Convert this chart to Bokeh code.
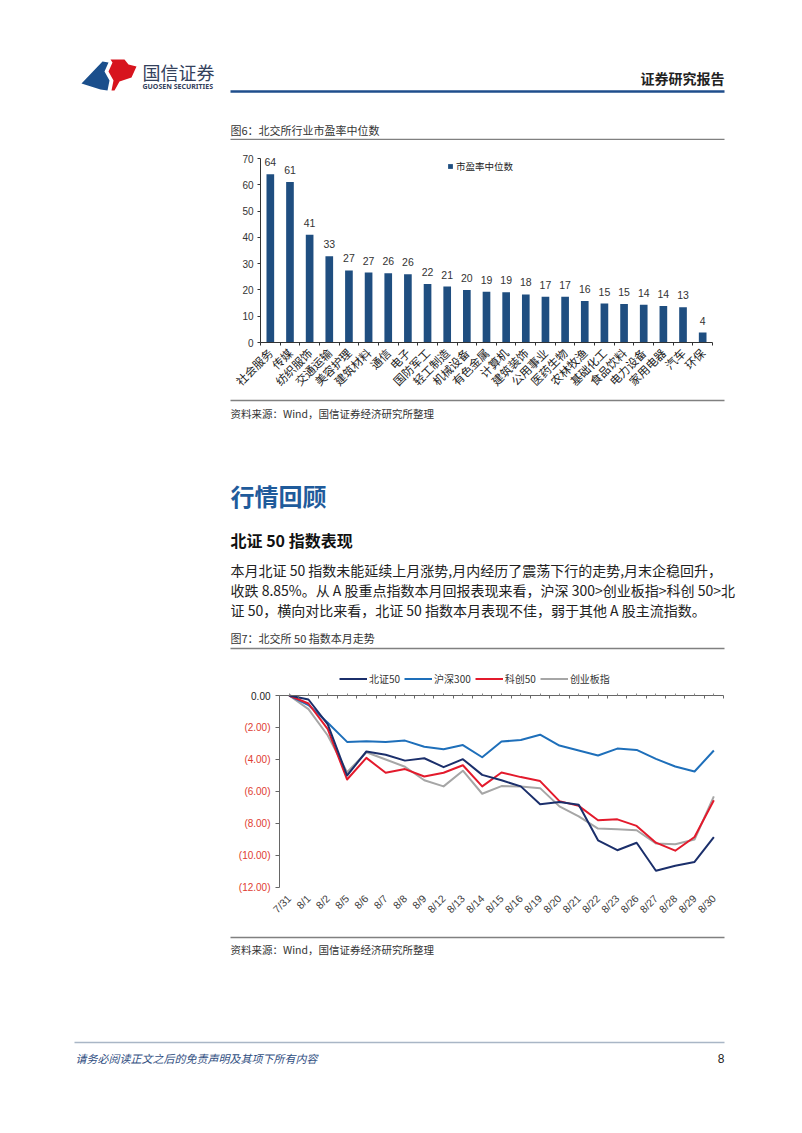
import math
from bokeh.plotting import figure
from bokeh.models import (Range1d, FixedTicker, LabelSet, ColumnDataSource, Legend,
                          LegendItem, Label, LinearAxis)
from bokeh.layouts import column
from bokeh.embed import file_html
from bokeh.resources import INLINE
from bokeh.core.properties import value

CJK = "Noto Sans CJK SC"
LAT = "Liberation Sans"

# ---------------- data: chart 1 ----------------
industries = ["社会服务", "传媒", "纺织服饰", "交通运输", "美容护理", "建筑材料", "通信", "电子",
              "国防军工", "轻工制造", "机械设备", "有色金属", "计算机", "建筑装饰", "公用事业",
              "医药生物", "农林牧渔", "基础化工", "食品饮料", "电力设备", "家用电器", "汽车", "环保"]
pe_median = [64.0, 61.1, 41.0, 32.8, 27.4, 26.6, 26.3, 26.0, 22.3, 21.3, 20.0, 19.3, 19.1,
             18.3, 17.4, 17.4, 15.8, 14.8, 14.6, 14.4, 13.9, 13.4, 3.8]
pe_ticks = [0, 10, 20, 30, 40, 50, 60, 70]
pe_series_name = "市盈率中位数"

# ---------------- data: chart 2 ----------------
dates = ["7/31", "8/1", "8/2", "8/5", "8/6", "8/7", "8/8", "8/9", "8/12", "8/13", "8/14",
         "8/15", "8/16", "8/19", "8/20", "8/21", "8/22", "8/23", "8/26", "8/27", "8/28",
         "8/29", "8/30"]
bz50 = [0.0, -0.25, -1.8, -5.0, -3.5, -3.7, -4.07, -3.92, -4.48, -3.98, -4.96, -5.3, -5.68,
        -6.8, -6.66, -6.83, -9.05, -9.67, -9.2, -10.95, -10.64, -10.4, -8.85]
hs300 = [0.0, -0.6, -1.7, -2.9, -2.86, -2.9, -2.82, -3.2, -3.36, -3.1, -3.86, -2.88, -2.78,
         -2.45, -3.13, -3.44, -3.75, -3.32, -3.4, -3.96, -4.44, -4.75, -3.44]
kc50 = [0.0, -0.5, -2.1, -5.25, -3.9, -4.83, -4.6, -5.06, -4.83, -4.36, -5.68, -4.81, -5.1,
        -5.35, -6.6, -6.9, -7.8, -7.74, -8.15, -9.2, -9.7, -8.84, -6.55]
cyb = [0.0, -0.85, -2.5, -4.8, -3.55, -4.0, -4.45, -5.3, -5.68, -4.7, -6.14, -5.66, -5.68,
       -5.79, -6.93, -7.55, -8.32, -8.36, -8.42, -9.25, -9.3, -9.0, -6.3]
series_names = ["北证50", "沪深300", "科创50", "创业板指"]
y2_ticks = [-12, -10, -8, -6, -4, -2, 0]

# ---------------- texts ----------------
brand_cn = "国信证券"
brand_en = "GUOSEN SECURITIES"
report_tag = "证券研究报告"
cap6 = "图6：北交所行业市盈率中位数"
cap7 = "图7：北交所 50 指数本月走势"
source_txt = "资料来源：Wind，国信证券经济研究所整理"
section_title = "行情回顾"
sub_title = "北证 50 指数表现"
para = ["本月北证 50 指数未能延续上月涨势,月内经历了震荡下行的走势,月末企稳回升，",
        "收跌 8.85%。从 A 股重点指数本月回报表现来看，沪深 300>创业板指>科创 50>北",
        "证 50，横向对比来看，北证 50 指数本月表现不佳，弱于其他 A 股主流指数。"]
footer_txt = "请务必阅读正文之后的免责声明及其项下所有内容"
page_no = "8"

BAR = "#1f4e80"
C_BZ, C_HS, C_KC, C_CY = "#1b2f6b", "#1e6fba", "#e31a2c", "#a6a6a6"
GRAYLINE = "#808080"

# ---- common horizontal frame for every panel (page pixels) ----
PAGE_L, PAGE_R = 0, 786
BORDER_L, BORDER_R = 60, 8
FRAME_L, FRAME_R = PAGE_L + BORDER_L, PAGE_R - BORDER_R


def page_fig(top, bottom):
    f = figure(width=PAGE_R - PAGE_L, height=bottom - top, x_range=Range1d(FRAME_L, FRAME_R),
               y_range=Range1d(bottom, top), output_backend="svg", toolbar_location=None,
               x_axis_type=None, y_axis_type=None, min_border=0,
               min_border_left=BORDER_L, min_border_right=BORDER_R)
    f.grid.visible = False
    f.outline_line_color = None
    f.background_fill_color = "white"
    f.border_fill_color = "white"
    return f


def txt(f, x, y, s, size, color="#222", bold=False, italic=False, align="left", font=CJK):
    style = "bold" if bold else ("italic" if italic else "normal")
    f.text(x=[x], y=[y], text=[s], text_font=value(font), text_font_size=value(size),
           text_color=color, text_baseline="middle", text_align=align, text_font_style=style)


def cat_range(n, axis_px, end_px):
    unit = (end_px - axis_px) / n
    return Range1d(-0.5 - (axis_px - FRAME_L) / unit, n - 0.5 + (FRAME_R - end_px) / unit)


# ---------------- header ----------------
fa = page_fig(0, 140)
fa.patch(x=[81, 102, 108, 104, 109, 107, 100], y=[83, 61, 62, 71, 80, 90, 89],
         fill_color="#1b4f8c", line_color=None)
fa.patch(x=[110, 124, 128, 136, 131, 119, 114, 111, 113, 108, 112],
         y=[59, 59, 64, 66, 77, 81, 90, 90, 80, 71, 62],
         fill_color="#d7141e", line_color=None)
txt(fa, 142, 71, brand_cn, "18px", color="#33415c")
txt(fa, 142, 86, brand_en, "7px", color="#33415c", bold=True, font="Noto Sans")
txt(fa, 724, 77, report_tag, "14px", color="#222", bold=True, align="right")
fa.line(x=[230, 724], y=[91, 91], line_color="#1f4e8c", line_width=2.5)
txt(fa, 230, 129, cap6, "11px", color="#333")
fa.line(x=[230, 724], y=[139, 139], line_color=GRAYLINE, line_width=1.5)

# ---------------- chart 1 ----------------
n1 = len(industries)
C1_TOP, C1_70, C1_0, C1_BOT, C1_FIG_T, C1_FIG_B = 150, 158, 342, 348, 140, 398
unit1 = (C1_0 - C1_70) / 70
p1 = figure(width=PAGE_R - PAGE_L, height=C1_FIG_B - C1_FIG_T, x_range=cat_range(n1, 260, 712),
            y_range=Range1d(-(C1_BOT - C1_0) / unit1, 70 + (C1_70 - C1_TOP) / unit1),
            output_backend="svg", toolbar_location=None,
            min_border_left=BORDER_L, min_border_right=BORDER_R,
            min_border_top=C1_TOP - C1_FIG_T, min_border_bottom=C1_FIG_B - C1_BOT)
p1.outline_line_color = None
p1.grid.visible = False
src1 = ColumnDataSource(dict(x=list(range(n1)), top=pe_median,
                             lab=[f"{v:.0f}" for v in pe_median]))
rb = p1.vbar(x="x", top="top", width=0.39, source=src1, fill_color=BAR, line_color=None)
p1.add_layout(LabelSet(x="x", y="top", text="lab", source=src1, y_offset=8,
                       text_align="center", text_baseline="bottom", text_font=value(LAT),
                       text_font_size="10.5px", text_color="#333"))
# category labels (no line, no ticks)
xa = p1.xaxis[0]
xa.ticker = FixedTicker(ticks=list(range(n1)))
xa.major_label_overrides = {i: n for i, n in enumerate(industries)}
xa.major_label_orientation = math.pi / 4
xa.major_label_text_font = CJK
xa.major_label_text_font_size = "11.5px"
xa.major_label_text_color = "#222"
xa.major_label_standoff = 2
xa.major_tick_line_color = None
xa.major_tick_out = 0
xa.major_tick_in = 0
xa.minor_tick_line_color = None
xa.axis_line_color = None
# baseline axis at y = 0 with ticks between categories
bnd1 = [i - 0.5 for i in range(n1 + 1)]
base1 = LinearAxis(ticker=FixedTicker(ticks=bnd1), fixed_location=0, bounds=(-0.5, n1 - 0.5),
                   major_label_overrides={b: "" for b in bnd1},
                   major_label_text_font_size="1px", major_label_standoff=0,
                   major_tick_in=3, major_tick_out=0, minor_tick_line_color=None,
                   axis_line_color="#333", major_tick_line_color="#333")
p1.add_layout(base1, "above")
ya = p1.yaxis[0]
ya.fixed_location = -0.5
ya.bounds = (0, 70)
ya.ticker = FixedTicker(ticks=pe_ticks)
ya.minor_tick_line_color = None
ya.major_tick_out = 3
ya.major_tick_in = 0
ya.major_tick_line_color = "#333"
ya.axis_line_color = "#333"
ya.major_label_text_font = LAT
ya.major_label_text_font_size = "10px"
ya.major_label_text_color = "#333"
ya.major_label_standoff = 4
leg1 = Legend(items=[LegendItem(label=pe_series_name, renderers=[rb])],
              location=(447 - FRAME_L, C1_BOT - 173),
              background_fill_alpha=0, border_line_color=None, padding=0, margin=0,
              glyph_width=6, glyph_height=6, label_standoff=3, label_height=12,
              label_text_font=CJK, label_text_font_size="9.5px", label_text_color="#222")
p1.add_layout(leg1)

# ---------------- middle text ----------------
fc = page_fig(398, 655)
fc.line(x=[230, 724], y=[400, 400], line_color=GRAYLINE, line_width=1.5)
txt(fc, 230, 413, source_txt, "10.5px", color="#333")
txt(fc, 230, 495, section_title, "24px", color="#1f5b9b", bold=True)
txt(fc, 230, 539, sub_title, "16px", color="#111", bold=True)
for i, line in enumerate(para):
    txt(fc, 230, 569 + 20 * i, line, "14px", color="#222")
txt(fc, 230, 637, cap7, "11px", color="#333")
fc.line(x=[230, 724], y=[648, 648], line_color=GRAYLINE, line_width=1.5)

# ---------------- chart 2 ----------------
n2 = len(dates)
C2_FIG_T, C2_TOP, C2_0, C2_M12, C2_BOT, C2_FIG_B = 655, 669, 695, 887, 895, 925
unit2 = (C2_M12 - C2_0) / 12
p2 = figure(width=PAGE_R - PAGE_L, height=C2_FIG_B - C2_FIG_T, x_range=cat_range(n2, 279, 723),
            y_range=Range1d(-12 - (C2_BOT - C2_M12) / unit2, (C2_0 - C2_TOP) / unit2),
            output_backend="svg", toolbar_location=None,
            min_border_left=BORDER_L, min_border_right=BORDER_R,
            min_border_top=C2_TOP - C2_FIG_T, min_border_bottom=C2_FIG_B - C2_BOT)
p2.outline_line_color = None
p2.grid.visible = False
xb = p2.xaxis[0]
xb.ticker = FixedTicker(ticks=list(range(n2)))
xb.major_label_overrides = {i: d for i, d in enumerate(dates)}
xb.major_label_orientation = math.pi / 4
xb.major_label_text_font = LAT
xb.major_label_text_font_size = "10.5px"
xb.major_label_text_color = "#404040"
xb.major_label_standoff = 1
xb.axis_line_color = None
xb.major_tick_line_color = None
xb.major_tick_out = 0
xb.major_tick_in = 0
xb.minor_tick_line_color = None

bnd2 = [i - 0.5 for i in range(n2 + 1)]
top_ax = LinearAxis(ticker=FixedTicker(ticks=bnd2, minor_ticks=list(range(n2))),
                    fixed_location=0, bounds=(-0.5, n2 - 0.5),
                    major_label_overrides={b: "" for b in bnd2},
                    major_label_text_font_size="1px", major_label_standoff=0,
                    major_tick_in=3, major_tick_out=0, minor_tick_in=0, minor_tick_out=2,
                    axis_line_color="#666", major_tick_line_color="#666",
                    minor_tick_line_color="#888")
p2.add_layout(top_ax, "above")

yb = p2.yaxis[0]
yb.fixed_location = -0.5
yb.bounds = (-12, 0)
yb.ticker = FixedTicker(ticks=y2_ticks)
yb.major_label_overrides = {t: ("" if t == 0 else f"({abs(t):.2f})") for t in y2_ticks}
yb.major_label_text_color = "#e03c31"
yb.major_label_text_font = LAT
yb.major_label_text_font_size = "10px"
yb.major_label_standoff = 5
yb.major_tick_out = 4
yb.major_tick_in = 0
yb.minor_tick_line_color = None
yb.axis_line_color = "#666"
yb.major_tick_line_color = "#666"
p2.add_layout(Label(x=-0.5, y=0, x_offset=-9, text="0.00", text_align="right",
                    text_baseline="middle", text_font=LAT, text_font_size="10px",
                    text_color="#222"))

src2 = ColumnDataSource(dict(x=list(range(n2)), bz=bz50, hs=hs300, kc=kc50, cy=cyb))
r_cy = p2.line("x", "cy", source=src2, line_color=C_CY, line_width=2, line_join="round")
r_hs = p2.line("x", "hs", source=src2, line_color=C_HS, line_width=2, line_join="round")
r_kc = p2.line("x", "kc", source=src2, line_color=C_KC, line_width=2, line_join="round")
r_bz = p2.line("x", "bz", source=src2, line_color=C_BZ, line_width=2, line_join="round")
leg2 = Legend(items=[LegendItem(label=series_names[0], renderers=[r_bz]),
                     LegendItem(label=series_names[1], renderers=[r_hs]),
                     LegendItem(label=series_names[2], renderers=[r_kc]),
                     LegendItem(label=series_names[3], renderers=[r_cy])],
              location=(339 - FRAME_L, C2_BOT - 685.5), orientation="horizontal",
              background_fill_alpha=0, border_line_color=None, padding=0, margin=0,
              glyph_width=28, glyph_height=13, label_standoff=2, label_height=13, spacing=4,
              label_text_font=CJK, label_text_font_size="10px", label_text_color="#333")
p2.add_layout(leg2)

# ---------------- bottom text ----------------
fe = page_fig(925, 1117)
fe.line(x=[230, 724], y=[937, 937], line_color=GRAYLINE, line_width=1.5)
txt(fe, 230, 949, source_txt, "10.5px", color="#333")
fe.line(x=[74, 724], y=[1042, 1042], line_color="#a9b6c6", line_width=1.5)
txt(fe, 75, 1057, footer_txt, "11px", color="#2f4e7f", italic=True)
txt(fe, 724, 1058, page_no, "12px", color="#222", align="right", font=LAT)

layout = column(fa, p1, fc, p2, fe, spacing=0)
open("out.html", "w").write(file_html(layout, INLINE))
